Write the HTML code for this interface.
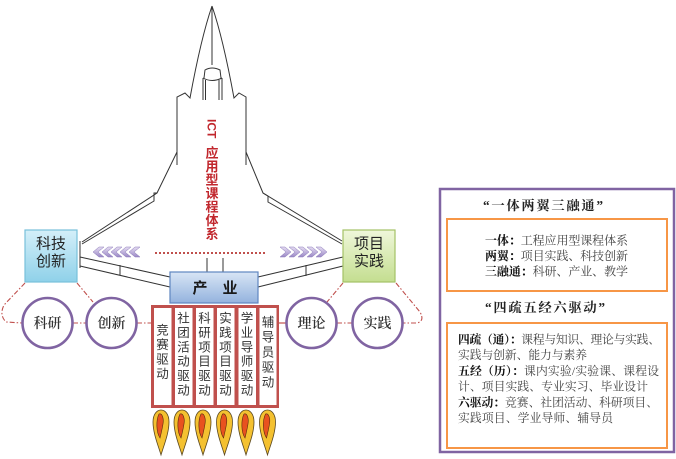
<!DOCTYPE html>
<html><head><meta charset="utf-8">
<style>
html,body{margin:0;padding:0;background:#fff;}
svg{display:block;}
.sans{font-family:"Liberation Sans","Noto Sans CJK SC",sans-serif;}
.serif{font-family:"Liberation Serif","Noto Serif CJK SC",serif;}
</style></head>
<body>
<svg width="676" height="459" viewBox="0 0 676 459" xmlns="http://www.w3.org/2000/svg">
<defs>
<linearGradient id="gc" x1="0" y1="0" x2="0" y2="1"><stop offset="0" stop-color="#d4eff9"/><stop offset="1" stop-color="#8fd1e9"/></linearGradient>
<linearGradient id="gg" x1="0" y1="0" x2="0" y2="1"><stop offset="0" stop-color="#eff7da"/><stop offset="1" stop-color="#c4de90"/></linearGradient>
<linearGradient id="gb" x1="0" y1="0" x2="0" y2="1"><stop offset="0" stop-color="#d8e5f5"/><stop offset="1" stop-color="#94b3de"/></linearGradient>
<linearGradient id="gp" x1="0" y1="0" x2="0" y2="1"><stop offset="0" stop-color="#e6def3"/><stop offset="1" stop-color="#9a88c6"/></linearGradient>
</defs>

<!-- plane outline -->
<g fill="none" stroke="#333" stroke-width="1">
  <path d="M212,6 Q201,38 190,98 L185,93 L177,97 L177,165"/>
  <path d="M212,6 Q223,38 234,98 L239,93 L246,97 L246,165"/>
  <path d="M212,6 L212,65"/>
  <path d="M204,78 L205,70 Q212,66 220,70 L221,78"/>
  <path d="M203,78 Q212,83 222,78"/>
  <path d="M203,78 L203,100 M205.5,80 L205.5,100 M219,80 L219,100 M222,78 L222,100"/>
  <path d="M177,152 L157,193 L82,242"/>
  <path d="M157,193 L154,193 L154,201 L82,244"/>
  <path d="M246,152 L263,193 L342,241"/>
  <path d="M263,193 L268,196 L268,202 L342,244"/>
  <path d="M80,241 L80,268 M343,241 L343,268"/>
  <path d="M80,257 L170,277 M80,266 L170,287 M120,265 L120,275"/>
  <path d="M343,257 L258,277 M343,266 L258,287 M306,265 L306,276"/>
  <path d="M207,258 L207,272 M223,258 L223,272"/>
</g>

<!-- red vertical title -->
<g class="sans" fill="#c1272d" font-weight="bold" font-size="13" text-anchor="middle">
  <text x="0" y="4.3" font-size="12" text-anchor="start" transform="translate(212,119) rotate(90)">ICT</text>
  <text x="212" y="157.7">应</text>
  <text x="212" y="171.2">用</text>
  <text x="212" y="184.7">型</text>
  <text x="212" y="198.2">课</text>
  <text x="212" y="211.7">程</text>
  <text x="212" y="225.2">体</text>
  <text x="212" y="238.7">系</text>
</g>

<!-- chevrons -->
<g fill="url(#gp)" stroke="#8a78b8" stroke-width="0.5">
  <polygon points="93,252 99,247 104,247 98,252 104,257 99,257"/>
  <polygon points="102,252 108,247 113,247 107,252 113,257 108,257"/>
  <polygon points="111,252 117,247 122,247 116,252 122,257 117,257"/>
  <polygon points="120,252 126,247 131,247 125,252 131,257 126,257"/>
  <polygon points="129,252 135,247 140,247 134,252 140,257 135,257"/>
  <polygon points="327,252 321,247 316,247 322,252 316,257 321,257"/>
  <polygon points="318,252 312,247 307,247 313,252 307,257 312,257"/>
  <polygon points="309,252 303,247 298,247 304,252 298,257 303,257"/>
  <polygon points="300,252 294,247 289,247 295,252 289,257 294,257"/>
  <polygon points="291,252 285,247 280,247 286,252 280,257 285,257"/>
</g>
<line x1="155" y1="253" x2="266" y2="253" stroke="#c0504d" stroke-width="2" stroke-dasharray="2 2"/>

<!-- dash-dot lines -->
<g fill="none" stroke="#c0504d" stroke-width="1.1" stroke-dasharray="5 2 1.5 2">
  <path d="M25,283 L4,305 Q-1,315 6,322 L22,323"/>
  <path d="M77,283 L93,302"/>
  <path d="M73,323 L86,323"/>
  <path d="M137,323 L151,323"/>
  <path d="M343,283 L327,302"/>
  <path d="M337,323 L352,323"/>
  <path d="M396,283 L420,312 Q425,321 417,323 L403,323"/>
</g>
<line x1="278" y1="323" x2="286" y2="323" stroke="#c0504d" stroke-width="1.2"/>

<!-- side boxes -->
<rect x="25" y="230" width="52" height="52" fill="url(#gc)" stroke="#78c0da" stroke-width="1.2"/>
<rect x="343" y="230" width="52" height="52" fill="url(#gg)" stroke="#a4c266" stroke-width="1.2"/>
<g class="sans" font-size="15" fill="#222" text-anchor="middle">
  <text x="51" y="248.5">科技</text>
  <text x="51" y="266">创新</text>
  <text x="369" y="248.5">项目</text>
  <text x="369" y="266">实践</text>
</g>

<!-- 产业 box -->
<rect x="170" y="272" width="88" height="31" fill="url(#gb)" stroke="#5f86c0" stroke-width="1.2"/>
<g class="sans" font-size="15" font-weight="bold" fill="#1a1a1a" text-anchor="middle">
  <text x="200" y="293">产</text>
  <text x="230" y="293">业</text>
</g>

<!-- circles -->
<g fill="#fff" stroke="#8064a2" stroke-width="2.6">
  <circle cx="47.5" cy="323" r="25"/>
  <circle cx="111.5" cy="323" r="25"/>
  <circle cx="311.5" cy="323" r="25"/>
  <circle cx="377.5" cy="323" r="25"/>
</g>
<g class="serif" font-size="14" font-weight="600" fill="#333" text-anchor="middle">
  <text x="47.5" y="328">科研</text>
  <text x="111.5" y="328">创新</text>
  <text x="311.5" y="328">理论</text>
  <text x="377.5" y="328">实践</text>
</g>

<!-- columns -->
<rect x="151" y="305" width="128" height="103" fill="#c0504d"/>
<g fill="#fff">
  <rect x="154" y="308" width="17.5" height="97"/>
  <rect x="175" y="308" width="17.5" height="97"/>
  <rect x="196" y="308" width="17.5" height="97"/>
  <rect x="217" y="308" width="17.5" height="97"/>
  <rect x="238.5" y="308" width="17.5" height="97"/>
  <rect x="259.5" y="308" width="17" height="97"/>
</g>
<g class="sans" font-size="12.5" fill="#333" text-anchor="middle">
  <text x="162.5" y="334.5">竞</text><text x="162.5" y="349">赛</text><text x="162.5" y="363.5">驱</text><text x="162.5" y="378">动</text>
  <text x="183.5" y="322.5">社</text><text x="183.5" y="337">团</text><text x="183.5" y="351.3">活</text><text x="183.5" y="365.7">动</text><text x="183.5" y="380.1">驱</text><text x="183.5" y="394.5">动</text>
  <text x="204.5" y="322.5">科</text><text x="204.5" y="337">研</text><text x="204.5" y="351.3">项</text><text x="204.5" y="365.7">目</text><text x="204.5" y="380.1">驱</text><text x="204.5" y="394.5">动</text>
  <text x="225.5" y="322.5">实</text><text x="225.5" y="337">践</text><text x="225.5" y="351.3">项</text><text x="225.5" y="365.7">目</text><text x="225.5" y="380.1">驱</text><text x="225.5" y="394.5">动</text>
  <text x="247" y="322.5">学</text><text x="247" y="337">业</text><text x="247" y="351.3">导</text><text x="247" y="365.7">师</text><text x="247" y="380.1">驱</text><text x="247" y="394.5">动</text>
  <text x="268" y="326.5">辅</text><text x="268" y="341.5">导</text><text x="268" y="356.5">员</text><text x="268" y="371.5">驱</text><text x="268" y="386.5">动</text>
</g>

<!-- flames -->
<g id="flames">
  <g transform="translate(161,0)">
    <path d="M0,455 C-3,445 -8,433 -8,422 C-8,414 -4,410 0,410 C4,410 8,414 8,422 C8,433 3,445 0,455 Z" fill="#f4c130" stroke="#5a4820" stroke-width="0.8"/>
    <path d="M-1,438 C-5,432 -5,420 -2,414 C1,413 3,418 2,424 C1,430 0,434 -1,438 Z" fill="#e8521f" stroke="#5a2a10" stroke-width="0.6"/>
  </g>
  <g transform="translate(182,0)">
    <path d="M0,455 C-3,445 -8,433 -8,422 C-8,414 -4,410 0,410 C4,410 8,414 8,422 C8,433 3,445 0,455 Z" fill="#f4c130" stroke="#5a4820" stroke-width="0.8"/>
    <path d="M-1,438 C-5,432 -5,420 -2,414 C1,413 3,418 2,424 C1,430 0,434 -1,438 Z" fill="#e8521f" stroke="#5a2a10" stroke-width="0.6"/>
  </g>
  <g transform="translate(203,0)">
    <path d="M0,455 C-3,445 -8,433 -8,422 C-8,414 -4,410 0,410 C4,410 8,414 8,422 C8,433 3,445 0,455 Z" fill="#f4c130" stroke="#5a4820" stroke-width="0.8"/>
    <path d="M-1,438 C-5,432 -5,420 -2,414 C1,413 3,418 2,424 C1,430 0,434 -1,438 Z" fill="#e8521f" stroke="#5a2a10" stroke-width="0.6"/>
  </g>
  <g transform="translate(224.5,0)">
    <path d="M0,455 C-3,445 -8,433 -8,422 C-8,414 -4,410 0,410 C4,410 8,414 8,422 C8,433 3,445 0,455 Z" fill="#f4c130" stroke="#5a4820" stroke-width="0.8"/>
    <path d="M-1,438 C-5,432 -5,420 -2,414 C1,413 3,418 2,424 C1,430 0,434 -1,438 Z" fill="#e8521f" stroke="#5a2a10" stroke-width="0.6"/>
  </g>
  <g transform="translate(246,0)">
    <path d="M0,455 C-3,445 -8,433 -8,422 C-8,414 -4,410 0,410 C4,410 8,414 8,422 C8,433 3,445 0,455 Z" fill="#f4c130" stroke="#5a4820" stroke-width="0.8"/>
    <path d="M-1,438 C-5,432 -5,420 -2,414 C1,413 3,418 2,424 C1,430 0,434 -1,438 Z" fill="#e8521f" stroke="#5a2a10" stroke-width="0.6"/>
  </g>
  <g transform="translate(267.5,0)">
    <path d="M0,455 C-3,445 -8,433 -8,422 C-8,414 -4,410 0,410 C4,410 8,414 8,422 C8,433 3,445 0,455 Z" fill="#f4c130" stroke="#5a4820" stroke-width="0.8"/>
    <path d="M-1,438 C-5,432 -5,420 -2,414 C1,413 3,418 2,424 C1,430 0,434 -1,438 Z" fill="#e8521f" stroke="#5a2a10" stroke-width="0.6"/>
  </g>
</g>

<!-- right panel -->
<rect x="440" y="189" width="234" height="263" fill="#fff" stroke="#8064a2" stroke-width="2.5"/>
<rect x="447" y="219" width="220" height="72" fill="none" stroke="#f79646" stroke-width="2"/>
<rect x="447" y="323" width="220" height="125" fill="none" stroke="#f79646" stroke-width="2"/>

<g class="serif" fill="#222">
  <text x="483" y="210" font-size="13.3" font-weight="bold" textLength="120">“一体两翼三融通”</text>
  <text x="485" y="312" font-size="13.3" font-weight="bold" textLength="120">“四疏五经六驱动”</text>

  <text x="485" y="244.5" font-size="12" textLength="143"><tspan font-weight="bold" fill="#111">一体：</tspan><tspan fill="#444">工程应用型课程体系</tspan></text>
  <text x="485" y="260" font-size="12" textLength="143"><tspan font-weight="bold" fill="#111">两翼：</tspan><tspan fill="#444">项目实践、科技创新</tspan></text>
  <text x="485" y="275.5" font-size="12" textLength="143"><tspan font-weight="bold" fill="#111">三融通：</tspan><tspan fill="#444">科研、产业、教学</tspan></text>

  <text x="458" y="343.5" font-size="11.8" textLength="202"><tspan font-weight="bold" fill="#111">四疏（通）：</tspan><tspan fill="#444">课程与知识、理论与实践、</tspan></text>
  <text x="458" y="359" font-size="11.8" textLength="129" fill="#444">实践与创新、能力与素养</text>
  <text x="458" y="375" font-size="11.8" textLength="201"><tspan font-weight="bold" fill="#111">五经（历）：</tspan><tspan fill="#444">课内实验/实验课、课程设</tspan></text>
  <text x="458" y="390.5" font-size="11.8" textLength="190" fill="#444">计、项目实践、专业实习、毕业设计</text>
  <text x="458" y="406.5" font-size="11.8" textLength="200"><tspan font-weight="bold" fill="#111">六驱动：</tspan><tspan fill="#444">竞赛、社团活动、科研项目、</tspan></text>
  <text x="458" y="422" font-size="11.8" textLength="155" fill="#444">实践项目、学业导师、辅导员</text>
</g>
</svg>
</body></html>
